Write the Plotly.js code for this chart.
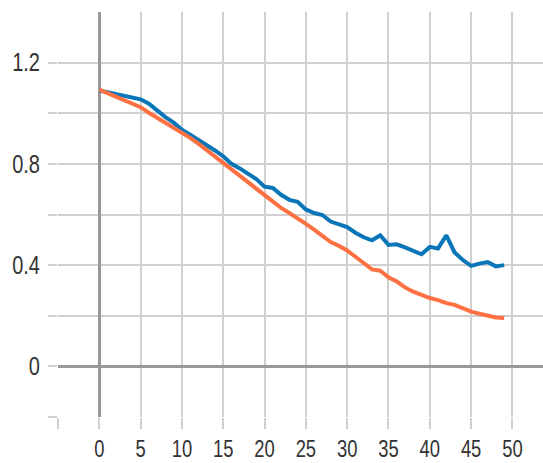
<!DOCTYPE html>
<html>
<head>
<meta charset="utf-8">
<script src="https://cdn.plot.ly/plotly-3.0.1.min.js"></script>
<style>html,body{margin:0;padding:0;background:#fff;}#chart{width:543px;height:463px;}</style>
</head>
<body>
<div id="chart"></div>
<script>
const steps = [0,1,2,3,4,5,6,7,8,9,10,11,12,13,14,15,16,17,18,19,20,21,22,23,24,25,26,27,28,29,30,31,32,33,34,35,36,37,38,39,40,41,42,43,44,45,46,47,48,49];
const blueSeries = [1.090,1.083,1.076,1.069,1.062,1.055,1.038,1.010,0.985,0.963,
  0.935,0.915,0.895,0.872,0.853,0.830,0.800,0.782,0.760,0.740,
  0.710,0.705,0.678,0.658,0.650,0.620,0.606,0.598,0.572,0.562,
  0.550,0.528,0.510,0.498,0.518,0.480,0.482,0.470,0.455,0.443,
  0.472,0.466,0.518,0.450,0.420,0.397,0.406,0.412,0.395,0.400];
const orangeSeries = [1.093,1.079,1.065,1.051,1.038,1.024,1.002,0.982,0.962,0.943,
  0.925,0.903,0.880,0.855,0.828,0.802,0.778,0.752,0.727,0.702,
  0.678,0.652,0.626,0.606,0.586,0.563,0.540,0.515,0.491,0.476,
  0.458,0.433,0.408,0.383,0.378,0.352,0.335,0.312,0.295,0.281,
  0.270,0.262,0.250,0.243,0.230,0.216,0.208,0.200,0.193,0.191];
const xTickVals = [-5,0,5,10,15,20,25,30,35,40,45,50];
const xTickText = ['','0','5','10','15','20','25','30','35','40','45','50'];
const yTickVals = [-0.2,0,0.2,0.4,0.6,0.8,1.0,1.2];
const yTickText = ['','0','','0.4','','0.8','','1.2'];

const traces = [
  {x: steps, y: blueSeries, mode: 'lines', line: {color: '#0a76b8', width: 4}, hoverinfo: 'none'},
  {x: steps, y: orangeSeries, mode: 'lines', line: {color: '#ff7043', width: 4}, hoverinfo: 'none'}
];
const fontFam = '"Liberation Sans Narrow", "Arial Narrow", "Liberation Sans", Arial, sans-serif';
const xFont = {family: fontFam, size: 23, color: '#333'};
const yFont = {family: fontFam, size: 25, color: '#333'};
const layout = {
  width: 543, height: 463,
  margin: {l: 58, r: 0, t: 12, b: 46},
  showlegend: false,
  paper_bgcolor: '#fff', plot_bgcolor: '#fff',
  font: yFont,
  xaxis: {
    range: [-5, 53.7], tickmode: 'array', tickvals: xTickVals, ticktext: xTickText,
    tickfont: xFont,
    showgrid: true, gridcolor: '#d0d0d0', gridwidth: 2,
    zeroline: true, zerolinecolor: '#999', zerolinewidth: 3,
    ticks: 'outside', ticklen: 11, tickwidth: 2, tickcolor: '#d0d0d0',
    ticklabelstandoff: 0,
    showline: false, fixedrange: true
  },
  yaxis: {
    range: [-0.2, 1.4], tickmode: 'array', tickvals: yTickVals, ticktext: yTickText,
    tickfont: yFont,
    showgrid: true, gridcolor: '#d0d0d0', gridwidth: 2,
    zeroline: true, zerolinecolor: '#999', zerolinewidth: 3,
    ticks: 'outside', ticklen: 9, tickwidth: 2, tickcolor: '#d0d0d0',
    ticklabelstandoff: 3,
    showline: false, fixedrange: true
  }
};
Plotly.newPlot('chart', traces, layout, {staticPlot: true, displayModeBar: false}).then(function (gd) {
  // condense tick labels horizontally to mimic a narrow typeface
  gd.querySelectorAll('.xtick text, .ytick text').forEach(function (t) {
    if (!t.textContent) return;
    const w = t.getComputedTextLength();
    t.setAttribute('textLength', (w * 0.8).toFixed(2));
    t.setAttribute('lengthAdjust', 'spacingAndGlyphs');
  });
});
</script>
</body>
</html>
